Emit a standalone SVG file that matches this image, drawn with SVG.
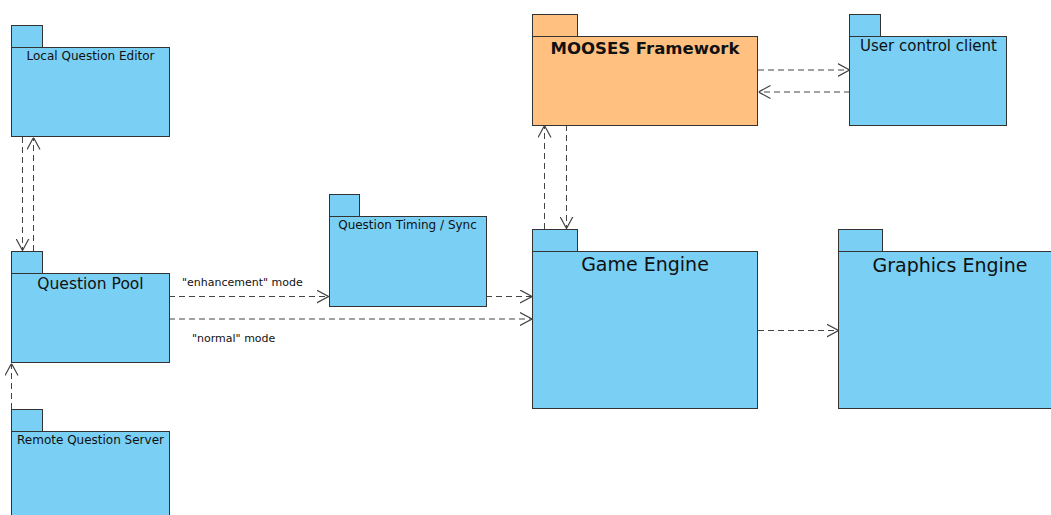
<svg xmlns="http://www.w3.org/2000/svg" width="1051" height="515" viewBox="0 0 1051 515">
  <defs>
    <style>
      .pkg { fill: #7ACFF4; stroke: #333; stroke-width: 1; }
      .fw { fill: #FFC080; stroke: #333; stroke-width: 1; }
      .t { font-family: "DejaVu Sans", "Liberation Sans", sans-serif; fill: #111; text-anchor: middle; }
      .s12 { font-size: 12px; }
      .lbl { font-family: "DejaVu Sans", "Liberation Sans", sans-serif; font-size: 11px; fill: #111; }
      .dep { fill: none; stroke: #444; stroke-width: 1; stroke-dasharray: 6 4; marker-end: url(#open); }
    </style>
    <marker id="open" viewBox="0 0 12 14" refX="12" refY="7" markerWidth="12" markerHeight="14" markerUnits="userSpaceOnUse" orient="auto">
      <path d="M0,0.5 L12,7 L0,13.5" fill="none" stroke="#444" stroke-width="1.2" stroke-dasharray="none"/>
    </marker>
  </defs>

  <rect width="1051" height="515" fill="#fff"/>

  <!-- dependencies -->
  <g id="connectors">
    <path class="dep" d="M22.5,137 V250.5"/>
    <path class="dep" d="M33.5,251 V137.5"/>
    <path class="dep" d="M11.5,409 V363.5"/>
    <path class="dep" d="M169,296.5 H328.5"/>
    <path class="dep" d="M486,296.5 H532"/>
    <path class="dep" d="M169,319 H532"/>
    <path class="dep" d="M544.5,229 V125.5"/>
    <path class="dep" d="M566.5,125 V228.5"/>
    <path class="dep" d="M758,70 H849.5"/>
    <path class="dep" d="M850,92 H758.5"/>
    <path class="dep" d="M758,330.5 H838.5"/>
    <text class="lbl" x="182" y="286">"enhancement" mode</text>
    <text class="lbl" x="192" y="341.5">"normal" mode</text>
  </g>

  <g id="local-question-editor">
    <rect class="pkg" x="11.5" y="25.5" width="31" height="22"/>
    <rect class="pkg" x="11.5" y="47.5" width="158" height="89"/>
    <text class="t s12" x="90.5" y="59.5">Local Question Editor</text>
  </g>

  <g id="question-pool">
    <rect class="pkg" x="11.5" y="251.5" width="31" height="22"/>
    <rect class="pkg" x="11.5" y="273.5" width="158" height="89"/>
    <text class="t" x="90.5" y="289" font-size="15.5">Question Pool</text>
  </g>

  <g id="remote-question-server">
    <rect class="pkg" x="11.5" y="409.5" width="31" height="22"/>
    <rect class="pkg" x="11.5" y="431.5" width="158" height="100"/>
    <text class="t s12" x="90.5" y="444">Remote Question Server</text>
  </g>

  <g id="question-timing-sync">
    <rect class="pkg" x="329.5" y="194.5" width="30" height="22"/>
    <rect class="pkg" x="329.5" y="216.5" width="157" height="90"/>
    <text class="t s12" x="407.5" y="229">Question Timing / Sync</text>
  </g>

  <g id="mooses-framework">
    <rect class="fw" x="532.5" y="14.5" width="45" height="22"/>
    <rect class="fw" x="532.5" y="36.5" width="225" height="89"/>
    <text class="t" x="645" y="54" font-size="16.5" font-weight="bold">MOOSES Framework</text>
  </g>

  <g id="user-control-client">
    <rect class="pkg" x="849.5" y="14.5" width="31" height="22"/>
    <rect class="pkg" x="849.5" y="36.5" width="157" height="89"/>
    <text class="t" x="928.5" y="51" font-size="15">User control client</text>
  </g>

  <g id="game-engine">
    <rect class="pkg" x="532.5" y="229.5" width="45" height="22"/>
    <rect class="pkg" x="532.5" y="251.5" width="225" height="157"/>
    <text class="t" x="645" y="271" font-size="19">Game Engine</text>
  </g>

  <g id="graphics-engine">
    <rect class="pkg" x="838.5" y="229.5" width="44" height="22"/>
    <rect class="pkg" x="838.5" y="251.5" width="225" height="157"/>
    <text class="t" x="950" y="271.5" font-size="19">Graphics Engine</text>
  </g>
</svg>
